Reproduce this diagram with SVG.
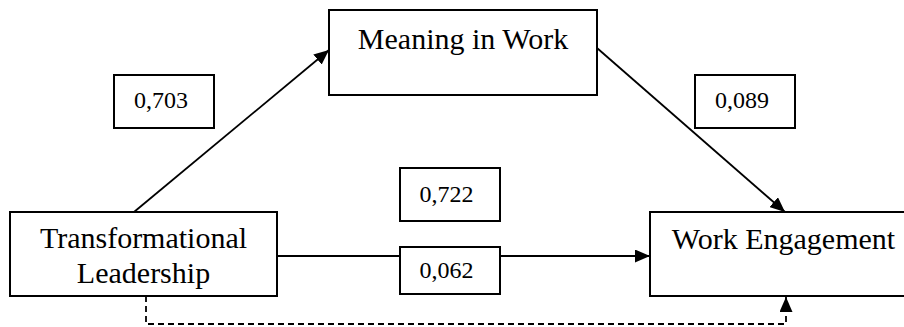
<svg xmlns="http://www.w3.org/2000/svg" width="904" height="327" viewBox="0 0 904 327" font-family="'Liberation Serif', 'DejaVu Serif', serif">
<style>
.box{fill:#fff;stroke:#000;stroke-width:2}
.lbl{fill:#fff;stroke:#000;stroke-width:2}
.t{font-size:30px;fill:#000;text-anchor:middle}
.n{font-size:24px;fill:#000;text-anchor:middle}
.c{fill:none;stroke:#000;stroke-width:1.8}
.d{fill:none;stroke:#000;stroke-width:1.8;stroke-dasharray:6 4}
</style>
<defs>
<marker id="ah" markerUnits="userSpaceOnUse" markerWidth="15" markerHeight="13" refX="15" refY="6.5" orient="auto">
<path d="M0,0 L15,6.5 L0,13 z" fill="#000"/>
</marker>
</defs>
<rect width="904" height="327" fill="#fff"/>
<g id="connectors">
<line class="c" x1="134" y1="212" x2="329" y2="50" marker-end="url(#ah)"/>
<line class="c" x1="597" y1="48" x2="785" y2="212" marker-end="url(#ah)"/>
<line class="c" x1="277" y1="256" x2="650" y2="256" marker-end="url(#ah)"/>
<path class="d" d="M146,296 V324 H786 V297" marker-end="url(#ah)"/>
</g>
<g id="transformational-leadership">
<rect class="box" x="10" y="212" width="267" height="84"/>
<text class="t" x="143.5" y="248">Transformational</text>
<text class="t" x="143.5" y="283">Leadership</text>
</g>
<g id="meaning-in-work">
<rect class="box" x="329" y="10" width="268" height="85"/>
<text class="t" x="463" y="49">Meaning in Work</text>
</g>
<g id="work-engagement">
<rect class="box" x="650" y="212" width="267" height="84"/>
<text class="t" x="783.5" y="249">Work Engagement</text>
</g>
<g id="label-0703">
<rect class="lbl" x="114" y="75" width="100" height="53"/>
<text class="n" x="161" y="108">0,703</text>
</g>
<g id="label-0089">
<rect class="lbl" x="695" y="75" width="100" height="53"/>
<text class="n" x="742" y="108">0,089</text>
</g>
<g id="label-0722">
<rect class="lbl" x="400" y="168" width="100" height="53"/>
<text class="n" x="446.5" y="202">0,722</text>
</g>
<g id="label-0062">
<rect class="lbl" x="400" y="247" width="100" height="47"/>
<text class="n" x="446.5" y="278">0,062</text>
</g>
</svg>
